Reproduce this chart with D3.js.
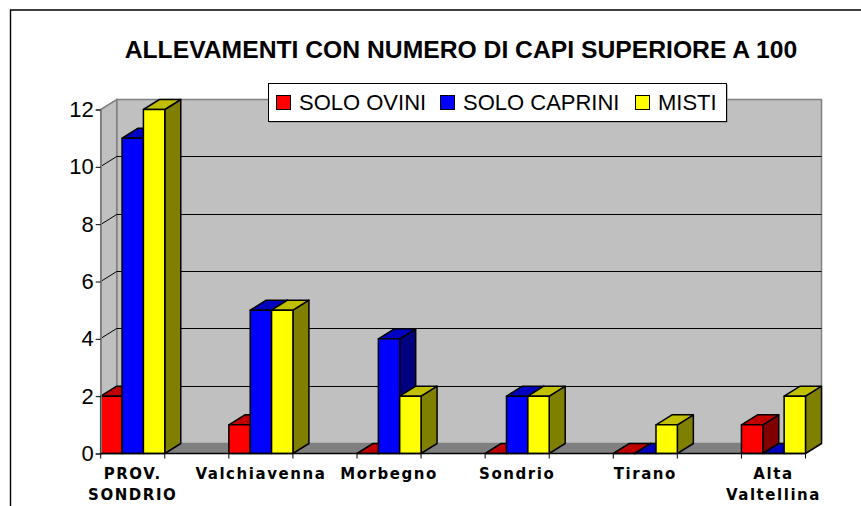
<!DOCTYPE html>
<html>
<head>
<meta charset="utf-8">
<script src="https://d3js.org/d3.v7.min.js"></script>
<style>
  html, body { margin: 0; padding: 0; background: #fff; }
  svg { display: block; }
</style>
</head>
<body>
<div id="chart"></div>
<script>
const categories = [["PROV.", "SONDRIO"], ["Valchiavenna"], ["Morbegno"], ["Sondrio"], ["Tirano"], ["Alta", "Valtellina"]];
const seriesNames = ["SOLO OVINI", "SOLO CAPRINI", "MISTI"];
const soloOvini = [2, 1, 0, 0, 0, 1];
const soloCaprini = [11, 5, 4, 2, 0, 0];
const misti = [12, 5, 2, 2, 1, 2];
const yTicks = [0, 2, 4, 6, 8, 10, 12];

const colors = [
  { front: "#ff0000", top: "#c00000", side: "#800000" },
  { front: "#0000ff", top: "#0000c0", side: "#000080" },
  { front: "#ffff00", top: "#c0c000", side: "#808000" }
];

const width = 861, height = 506;
const dx = 16, dy = -10;   // depth of the 3D box

const svg = d3.select("#chart")
  .append("svg")
    .attr("width", width)
    .attr("height", height);

// outer frame, open on the right and at the bottom
svg.append("path")
  .attr("d", "M10.5,506V10H861")
  .attr("fill", "none")
  .attr("stroke", "#000")
  .attr("stroke-width", 1.4);

svg.append("text")
  .text("ALLEVAMENTI CON NUMERO DI CAPI SUPERIORE A 100")
  .attr("x", 461)
  .attr("y", 58)
  .attr("text-anchor", "middle")
  .style("font-family", "Liberation Sans")
  .style("font-weight", "bold")
  .style("font-size", "24.7px");

const xScale = d3.scaleBand()
  .domain(d3.range(categories.length))
  .range([100.7, 805.5])
  .paddingInner(0.5)
  .paddingOuter(0);

const xInner = d3.scaleBand()
  .domain(d3.range(3))
  .range([0, xScale.bandwidth()]);

const yScale = d3.scaleLinear()
  .domain([0, 12])
  .range([453.5, 109.5]);

const x0 = xScale.range()[0], x1 = xScale.range()[1];
const y0 = yScale(0), y12 = yScale(12);

const poly = pts => "M" + pts.map(p => p.join(",")).join("L") + "Z";

// back wall, left wall, floor
svg.append("path")
  .attr("d", poly([[x0 + dx, y12 + dy], [x1 + dx, y12 + dy], [x1 + dx, y0 + dy], [x0 + dx, y0 + dy]]))
  .attr("fill", "#c0c0c0")
  .attr("stroke", "#808080")
  .attr("stroke-width", 1.5);
svg.append("path")
  .attr("d", poly([[x0, y12], [x0 + dx, y12 + dy], [x0 + dx, y0 + dy], [x0, y0]]))
  .attr("fill", "#c0c0c0")
  .attr("stroke", "#808080")
  .attr("stroke-width", 1.5);
svg.append("path")
  .attr("d", poly([[x0, y0], [x0 + dx, y0 + dy], [x1 + dx, y0 + dy], [x1, y0]]))
  .attr("fill", "#808080")
  .attr("stroke", "#808080");

// gridlines on the walls
svg.selectAll("path.grid")
  .data(yTicks.filter(d => d > 0 && d < 12))
  .join("path")
    .attr("class", "grid")
    .attr("d", d => {
      const y = Math.floor(yScale(d) + dy) + 0.5;
      return `M${x0},${y - dy}L${x0 + dx},${y}H${x1 + dx}`;
    })
    .attr("fill", "none")
    .attr("stroke", "#000")
    .attr("stroke-width", 1);

// bars, back to front per category
const allSeries = [soloOvini, soloCaprini, misti];
const w = xInner.bandwidth();

allSeries.forEach((values, s) => {
  const bar = svg.selectAll(`g.s${s}`)
    .data(values)
    .join("g")
      .attr("class", `s${s}`)
      .attr("stroke", "#000")
      .attr("stroke-width", 1.5)
      .attr("stroke-linejoin", "round");

  bar.append("path")
    .attr("fill", colors[s].side)
    .attr("d", (d, i) => {
      const x = xScale(i) + xInner(s) + w;
      return poly([[x, yScale(d)], [x + dx, yScale(d) + dy], [x + dx, y0 + dy], [x, y0]]);
    });
  bar.append("path")
    .attr("fill", colors[s].top)
    .attr("d", (d, i) => {
      const x = xScale(i) + xInner(s);
      return poly([[x, yScale(d)], [x + dx, yScale(d) + dy], [x + w + dx, yScale(d) + dy], [x + w, yScale(d)]]);
    });
  bar.append("rect")
    .attr("fill", colors[s].front)
    .attr("x", (d, i) => xScale(i) + xInner(s))
    .attr("y", d => yScale(d))
    .attr("width", w)
    .attr("height", d => y0 - yScale(d));
});

// y axis
const yAxis = d3.axisLeft(yScale)
  .tickValues(yTicks)
  .tickSize(5)
  .tickPadding(2);

const yG = svg.append("g")
  .attr("transform", `translate(${x0},0)`)
  .call(yAxis);
yG.select(".domain").attr("stroke", "#808080").attr("stroke-width", 1.5);
yG.selectAll("text")
  .style("font-family", "Liberation Sans")
  .style("font-size", "22px")
  .attr("fill", "#000");

// x axis line and ticks at the edges of each group
svg.append("line")
  .attr("x1", x0).attr("x2", x1)
  .attr("y1", y0).attr("y2", y0)
  .attr("stroke", "#000")
  .attr("stroke-width", 1.5);

const xEdges = categories.flatMap((c, i) => [xScale(i), xScale(i) + xScale.bandwidth()]);
svg.selectAll("line.xtick")
  .data(xEdges)
  .join("line")
    .attr("class", "xtick")
    .attr("x1", d => d).attr("x2", d => d)
    .attr("y1", y0).attr("y2", y0 + 5)
    .attr("stroke", "#000");

const xLabels = svg.selectAll("text.xlabel")
  .data(categories)
  .join("text")
    .attr("class", "xlabel")
    .attr("text-anchor", "middle")
    .style("font-family", "DejaVu Sans")
    .style("font-weight", "bold")
    .style("font-size", "15px")
    .style("letter-spacing", "1.55px");

xLabels.selectAll("tspan")
  .data((d, i) => d.map(t => ({ t, i })))
  .join("tspan")
    .text(d => d.t)
    .attr("x", d => xScale(d.i) + xScale.bandwidth() / 2)
    .attr("y", (d, j) => 479 + j * 20.5);

// legend
const legend = svg.append("g");
legend.append("rect")
  .attr("x", 269.5).attr("y", 84.5)
  .attr("width", 458).attr("height", 38)
  .attr("fill", "#808080");
legend.append("rect")
  .attr("x", 268.5).attr("y", 83.5)
  .attr("width", 458).attr("height", 38)
  .attr("fill", "#fff")
  .attr("stroke", "#000");

const legendSwatchX = [276, 440, 635];
const legendItem = legend.selectAll("g")
  .data(seriesNames)
  .join("g")
    .attr("transform", (d, i) => `translate(${legendSwatchX[i]},95)`);
legendItem.append("rect")
  .attr("x", 0.5).attr("y", 0.5)
  .attr("width", 14).attr("height", 14)
  .attr("fill", (d, i) => colors[i].front)
  .attr("stroke", "#000")
  .attr("stroke-width", 1);
legendItem.append("text")
  .text(d => d)
  .attr("x", 23)
  .attr("y", 15)
  .style("font-family", "Liberation Sans")
  .style("font-size", "22px");
</script>
</body>
</html>
